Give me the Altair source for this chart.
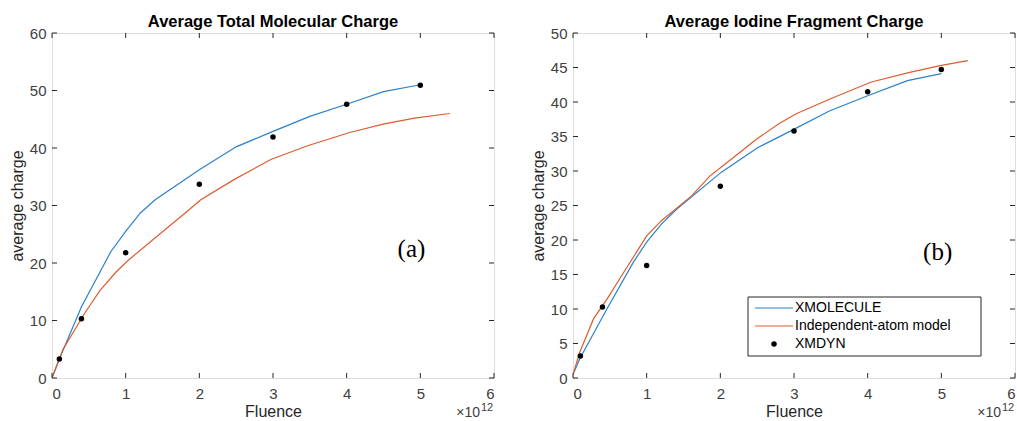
import altair as alt
import pandas as pd

# ---------------- data ----------------
series_names = ["XMOLECULE", "Independent-atom model", "XMDYN"]
series_colors = ["#2a82cc", "#dc5c2e", "#000000"]

x_ticks = [0, 1, 2, 3, 4, 5, 6]
ya_ticks = [0, 10, 20, 30, 40, 50, 60]
yb_ticks = [0, 5, 10, 15, 20, 25, 30, 35, 40, 45, 50]

# Panel (a): Average Total Molecular Charge (fluence in units of 1e12)
a_xmol_x = [0, 0.1, 0.4, 0.8, 1.0, 1.2, 1.4, 2.0, 2.5, 3.0, 3.5, 4.0, 4.5, 5.0]
a_xmol_y = [0, 3.3, 12.4, 22.0, 25.5, 28.7, 31.0, 36.2, 40.2, 42.9, 45.5, 47.6, 49.8, 51.0]
a_iam_x = [0, 0.15, 0.45, 0.65, 0.86, 1.02, 1.43, 1.8, 2.02, 2.47, 2.97, 3.47, 4.04, 4.51, 4.92, 5.4]
a_iam_y = [0, 5.0, 11.4, 15.2, 18.3, 20.3, 24.7, 28.6, 31.0, 34.5, 38.0, 40.4, 42.7, 44.2, 45.2, 46.0]
a_dyn_x = [0.1, 0.4, 1, 2, 3, 4, 5]
a_dyn_y = [3.3, 10.3, 21.8, 33.7, 41.9, 47.6, 50.9]

# Panel (b): Average Iodine Fragment Charge
b_xmol_x = [0, 0.09, 0.46, 0.82, 1.0, 1.2, 1.41, 2.01, 2.51, 3.01, 3.48, 4.0, 4.54, 5.0]
b_xmol_y = [0.5, 2.75, 10.0, 16.8, 19.7, 22.3, 24.5, 29.8, 33.4, 36.1, 38.7, 40.9, 43.1, 44.1]
b_iam_x = [0, 0.09, 0.28, 0.46, 0.64, 0.86, 1.0, 1.2, 1.61, 1.86, 2.04, 2.49, 2.8, 3.03, 3.48, 4.05, 4.57, 5.0, 5.36]
b_iam_y = [0.5, 3.7, 8.6, 11.4, 14.5, 18.2, 20.6, 22.8, 26.4, 29.3, 30.8, 34.6, 36.9, 38.3, 40.4, 42.9, 44.3, 45.3, 46.0]
b_dyn_x = [0.1, 0.4, 1, 2, 3, 4, 5]
b_dyn_y = [3.2, 10.3, 16.3, 27.8, 35.8, 41.5, 44.7]

W = 442
H = 345
FONT = "Liberation Sans"
AXC = "#262626"
LBC = "#404040"


def lines_df(xm_x, xm_y, ia_x, ia_y):
    return pd.concat([
        pd.DataFrame({"x": xm_x, "y": xm_y, "s": series_names[0]}),
        pd.DataFrame({"x": ia_x, "y": ia_y, "s": series_names[1]}),
    ], ignore_index=True)


def panel(title, ldf, dx, dy, ymax, yticks, tag, tag_x, tag_y, with_legend=False):
    xsc = alt.Scale(domain=[0, 6], nice=False, zero=False)
    ysc = alt.Scale(domain=[0, ymax], nice=False, zero=False)
    xax = alt.Axis(values=x_ticks, title="Fluence", ticks=False, grid=False, domain=False,
                   labelPadding=8, titlePadding=2, labelFontSize=15, titleFontSize=16,
                   labelColor=LBC, titleColor=AXC, labelFont=FONT, titleFont=FONT,
                   titleFontWeight="normal", format="d")
    yax = alt.Axis(values=yticks, title="average charge", ticks=False, grid=False, domain=False,
                   labelPadding=6, titlePadding=4, labelFontSize=15, titleFontSize=16,
                   labelColor=LBC, titleColor=AXC, labelFont=FONT, titleFont=FONT,
                   titleFontWeight="normal", format="d")

    def X():
        return alt.X("x:Q", scale=xsc, axis=xax)

    def Y():
        return alt.Y("y:Q", scale=ysc, axis=yax)

    lines = alt.Chart(ldf).mark_line(strokeWidth=1.2, clip=True).encode(
        x=X(), y=Y(),
        color=alt.Color("s:N", scale=alt.Scale(domain=series_names[:2], range=series_colors[:2]), legend=None),
        detail="s:N",
    )
    dots = alt.Chart(pd.DataFrame({"x": dx, "y": dy})).mark_circle(size=30, color="black", opacity=1).encode(
        x=X(), y=Y()
    )
    xt = pd.DataFrame({"x": x_ticks})
    yt = pd.DataFrame({"y": yticks})
    tb = alt.Chart(xt).mark_rule(color=AXC, strokeWidth=1).encode(
        x=X(), y=alt.value(H), y2=alt.value(H - 5))
    tt = alt.Chart(xt).mark_rule(color=AXC, strokeWidth=1).encode(
        x=X(), y=alt.value(0), y2=alt.value(5))
    tl = alt.Chart(yt).mark_rule(color=AXC, strokeWidth=1).encode(
        y=Y(), x=alt.value(0), x2=alt.value(5))
    tr = alt.Chart(yt).mark_rule(color=AXC, strokeWidth=1).encode(
        y=Y(), x=alt.value(W), x2=alt.value(W - 5))

    tagc = alt.Chart(pd.DataFrame({"x": [tag_x], "y": [tag_y], "t": [tag]})).mark_text(
        font="Liberation Serif", fontSize=25, color="black", align="center", baseline="middle"
    ).encode(x=X(), y=Y(), text="t:N")

    one = pd.DataFrame({"k": [0]})
    exp1 = alt.Chart(one).mark_text(font=FONT, fontSize=14, color=LBC, align="right",
                                    baseline="alphabetic", text="\u00d710").encode(
        x=alt.value(W - 14), y=alt.value(H + 39))
    exp2 = alt.Chart(one).mark_text(font=FONT, fontSize=11, color=LBC, align="left",
                                    baseline="alphabetic", text="12").encode(
        x=alt.value(W - 13), y=alt.value(H + 33))

    layers = [lines, dots, tb, tt, tl, tr, tagc, exp1, exp2]

    if with_legend:
        lx0, ly0, lx1, ly1 = 175, 264, 408, 323
        box = alt.Chart(one).mark_rect(fill="white", stroke=AXC, strokeWidth=1).encode(
            x=alt.value(lx0), x2=alt.value(lx1), y=alt.value(ly0), y2=alt.value(ly1))
        layers.append(box)
        rows = [ly0 + 11, ly0 + 29, ly0 + 47]
        for i, name in enumerate(series_names):
            if i < 2:
                layers.append(alt.Chart(one).mark_rule(color=series_colors[i], strokeWidth=1.2).encode(
                    x=alt.value(lx0 + 7), x2=alt.value(lx0 + 45), y=alt.value(rows[i])))
            else:
                layers.append(alt.Chart(one).mark_circle(size=30, color="black", opacity=1).encode(
                    x=alt.value(lx0 + 26), y=alt.value(rows[i])))
            layers.append(alt.Chart(one).mark_text(font=FONT, fontSize=14, color="black",
                                                   align="left", baseline="middle", text=name).encode(
                x=alt.value(lx0 + 47), y=alt.value(rows[i])))

    return alt.layer(*layers).properties(
        width=W, height=H,
        title=alt.TitleParams(title, font=FONT, fontSize=16.5, fontWeight="bold", color="black",
                              offset=-4, anchor="middle"),
    )


left = panel("Average Total Molecular Charge", lines_df(a_xmol_x, a_xmol_y, a_iam_x, a_iam_y),
             a_dyn_x, a_dyn_y, 60, ya_ticks, "(a)", 4.88, 22.4)
right = panel("Average Iodine Fragment Charge", lines_df(b_xmol_x, b_xmol_y, b_iam_x, b_iam_y),
              b_dyn_x, b_dyn_y, 50, yb_ticks, "(b)", 4.95, 18.3, with_legend=True)

chart = alt.hconcat(left, right, spacing=79, bounds="flush").properties(
    padding={"left": 8, "top": 13, "right": 0, "bottom": 0}
).configure_view(stroke=AXC, strokeWidth=1).configure(background="white")

chart.save("out.html", embed_options={"renderer": "svg", "actions": False})
